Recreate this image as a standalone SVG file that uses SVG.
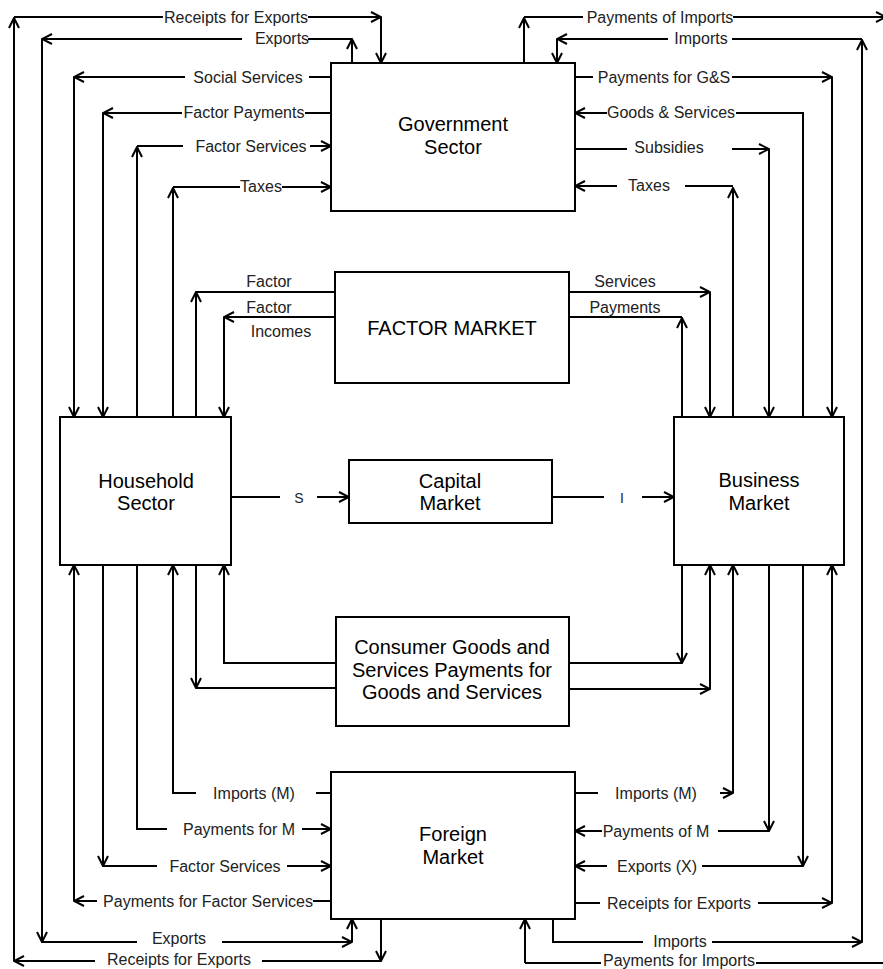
<svg xmlns="http://www.w3.org/2000/svg" width="883" height="969" viewBox="0 0 883 969">
<defs>
<style>
.c{fill:none;stroke:#000;stroke-width:2}
.box{fill:#fff;stroke:#000;stroke-width:2}
.l{font-family:"Liberation Sans",Arial,sans-serif;font-size:16px;fill:#222;text-anchor:middle}
.t{font-family:"Liberation Sans",Arial,sans-serif;font-size:20px;fill:#000;text-anchor:middle}
</style>
<marker id="ah" viewBox="0 0 12 12" refX="11" refY="6" markerWidth="12" markerHeight="12" markerUnits="userSpaceOnUse" orient="auto"><path d="M1,1 L11,6 L1,11" fill="none" stroke="#000" stroke-width="2"/></marker>
</defs>
<rect width="883" height="969" fill="#fff"/>
<g id="connectors">
<!-- Receipts for Exports (outer loop x=14) -->
<path class="c" d="M14,961 V18" marker-end="url(#ah)"/>
<path class="c" d="M14,17 H163"/>
<path class="c" d="M308,17 H381" marker-end="url(#ah)"/>
<path class="c" d="M381,17 V63" marker-end="url(#ah)"/>
<path class="c" d="M381,919 V961" marker-end="url(#ah)"/>
<path class="c" d="M381,961 H262"/>
<path class="c" d="M95,961 H14" marker-end="url(#ah)"/>
<text class="l" x="236" y="23">Receipts for Exports</text>
<text class="l" x="179" y="965">Receipts for Exports</text>
<!-- Exports (x=42) -->
<path class="c" d="M352,63 V39" marker-end="url(#ah)"/>
<path class="c" d="M352,39 H308"/>
<path class="c" d="M242,39 H42" marker-end="url(#ah)"/>
<path class="c" d="M42,39 V942" marker-end="url(#ah)"/>
<path class="c" d="M42,942 H137"/>
<path class="c" d="M222,942 H352" marker-end="url(#ah)"/>
<path class="c" d="M352,942 V919" marker-end="url(#ah)"/>
<text class="l" x="282" y="44">Exports</text>
<text class="l" x="179" y="944">Exports</text>
<!-- Social Services -->
<path class="c" d="M331,77 H309"/>
<path class="c" d="M185,77 H74" marker-end="url(#ah)"/>
<path class="c" d="M74,77 V417" marker-end="url(#ah)"/>
<text class="l" x="248" y="83">Social Services</text>
<!-- Factor Payments -->
<path class="c" d="M331,113 H305"/>
<path class="c" d="M182,113 H103" marker-end="url(#ah)"/>
<path class="c" d="M103,113 V417" marker-end="url(#ah)"/>
<text class="l" x="244" y="118">Factor Payments</text>
<!-- Factor Services (to government) -->
<path class="c" d="M137,417 V147" marker-end="url(#ah)"/>
<path class="c" d="M137,146 H183"/>
<path class="c" d="M310,146 H331" marker-end="url(#ah)"/>
<text class="l" x="251" y="152">Factor Services</text>
<!-- Taxes (left) -->
<path class="c" d="M173,417 V188" marker-end="url(#ah)"/>
<path class="c" d="M173,187 H240"/>
<path class="c" d="M282,187 H331" marker-end="url(#ah)"/>
<text class="l" x="261" y="192">Taxes</text>
<!-- Factor / Factor Incomes -->
<path class="c" d="M196,417 V292" marker-end="url(#ah)"/>
<path class="c" d="M196,292 H335"/>
<path class="c" d="M335,317 H224" marker-end="url(#ah)"/>
<path class="c" d="M224,317 V417" marker-end="url(#ah)"/>
<text class="l" x="269" y="287">Factor</text>
<text class="l" x="269" y="313">Factor</text>
<text class="l" x="281" y="337">Incomes</text>
<!-- S and I -->
<path class="c" d="M231,497 H280"/>
<path class="c" d="M317,497 H349" marker-end="url(#ah)"/>
<text class="l" x="299" y="503" style="font-size:14px">S</text>
<path class="c" d="M552,497 H604"/>
<path class="c" d="M642,497 H674" marker-end="url(#ah)"/>
<text class="l" x="622" y="503" style="font-size:14px">I</text>
<!-- Services / Payments (factor market to business) -->
<path class="c" d="M569,292 H710" marker-end="url(#ah)"/>
<path class="c" d="M710,292 V417" marker-end="url(#ah)"/>
<path class="c" d="M682,417 V318" marker-end="url(#ah)"/>
<path class="c" d="M682,317 H569"/>
<text class="l" x="625" y="287">Services</text>
<text class="l" x="625" y="313">Payments</text>
<!-- Consumer goods box links -->
<path class="c" d="M336,663 H224 V565" marker-end="url(#ah)"/>
<path class="c" d="M336,688 H196"/>
<path class="c" d="M196,565 V688" marker-end="url(#ah)"/>
<path class="c" d="M569,663 H682"/>
<path class="c" d="M682,565 V663" marker-end="url(#ah)"/>
<path class="c" d="M569,689 H710" marker-end="url(#ah)"/>
<path class="c" d="M710,689 V565" marker-end="url(#ah)"/>
<!-- Payments for G&S -->
<path class="c" d="M575,77 H593"/>
<path class="c" d="M732,77 H832" marker-end="url(#ah)"/>
<path class="c" d="M832,77 V417" marker-end="url(#ah)"/>
<text class="l" x="664" y="83">Payments for G&amp;S</text>
<!-- Goods & Services -->
<path class="c" d="M803,417 V113 H736"/>
<path class="c" d="M607,113 H575" marker-end="url(#ah)"/>
<text class="l" x="671" y="118">Goods &amp; Services</text>
<!-- Subsidies -->
<path class="c" d="M575,149 H627"/>
<path class="c" d="M732,149 H769" marker-end="url(#ah)"/>
<path class="c" d="M769,149 V417" marker-end="url(#ah)"/>
<text class="l" x="669" y="153">Subsidies</text>
<!-- Taxes (right) -->
<path class="c" d="M733,417 V188" marker-end="url(#ah)"/>
<path class="c" d="M733,186 H685"/>
<path class="c" d="M617,186 H575" marker-end="url(#ah)"/>
<text class="l" x="649" y="191">Taxes</text>
<!-- Payments of Imports (top) -->
<path class="c" d="M524,63 V18" marker-end="url(#ah)"/>
<path class="c" d="M524,17 H583"/>
<path class="c" d="M733,17 H886" marker-end="url(#ah)"/>
<text class="l" x="660" y="23">Payments of Imports</text>
<!-- Imports (x=862 loop) -->
<path class="c" d="M862,942 V40" marker-end="url(#ah)"/>
<path class="c" d="M862,39 H732"/>
<path class="c" d="M668,39 H557" marker-end="url(#ah)"/>
<path class="c" d="M557,39 V63" marker-end="url(#ah)"/>
<path class="c" d="M553,919 V942 H643"/>
<path class="c" d="M712,942 H862" marker-end="url(#ah)"/>
<text class="l" x="701" y="44">Imports</text>
<text class="l" x="680" y="947">Imports</text>
<!-- Payments for Imports (bottom) -->
<path class="c" d="M883,963 H756"/>
<path class="c" d="M601,963 H525"/>
<path class="c" d="M525,963 V919" marker-end="url(#ah)"/>
<text class="l" x="679" y="966">Payments for Imports</text>
<!-- Bottom left -->
<path class="c" d="M331,793 H316"/>
<path class="c" d="M196,793 H173 V565" marker-end="url(#ah)"/>
<text class="l" x="254" y="799">Imports (M)</text>
<path class="c" d="M137,565 V829 H167"/>
<path class="c" d="M302,829 H331" marker-end="url(#ah)"/>
<text class="l" x="239" y="835">Payments for M</text>
<path class="c" d="M103,565 V866" marker-end="url(#ah)"/>
<path class="c" d="M103,866 H157"/>
<path class="c" d="M287,866 H331" marker-end="url(#ah)"/>
<text class="l" x="225" y="872">Factor Services</text>
<path class="c" d="M331,901 H313"/>
<path class="c" d="M97,901 H74" marker-end="url(#ah)"/>
<path class="c" d="M74,901 V565" marker-end="url(#ah)"/>
<text class="l" x="208" y="907">Payments for Factor Services</text>
<!-- Bottom right -->
<path class="c" d="M575,793 H598"/>
<path class="c" d="M720,793 H733" marker-end="url(#ah)"/>
<path class="c" d="M733,793 V565" marker-end="url(#ah)"/>
<text class="l" x="656" y="799">Imports (M)</text>
<path class="c" d="M769,565 V831" marker-end="url(#ah)"/>
<path class="c" d="M769,831 H718"/>
<path class="c" d="M602,831 H575" marker-end="url(#ah)"/>
<text class="l" x="656" y="837">Payments of M</text>
<path class="c" d="M803,565 V866" marker-end="url(#ah)"/>
<path class="c" d="M803,866 H702"/>
<path class="c" d="M607,866 H575" marker-end="url(#ah)"/>
<text class="l" x="657" y="872">Exports (X)</text>
<path class="c" d="M575,903 H600"/>
<path class="c" d="M758,903 H832" marker-end="url(#ah)"/>
<path class="c" d="M832,903 V565" marker-end="url(#ah)"/>
<text class="l" x="679" y="909">Receipts for Exports</text>
</g>
<g id="government">
<rect class="box" x="331" y="63" width="244" height="148"/>
<text class="t" x="453" y="131">Government</text>
<text class="t" x="453" y="154">Sector</text>
</g>
<g id="factor-market">
<rect class="box" x="335" y="272" width="234" height="111"/>
<text class="t" x="452" y="335">FACTOR MARKET</text>
</g>
<g id="household">
<rect class="box" x="60" y="417" width="171" height="148"/>
<text class="t" x="146" y="488">Household</text>
<text class="t" x="146" y="510">Sector</text>
</g>
<g id="capital-market">
<rect class="box" x="349" y="460" width="203" height="63"/>
<text class="t" x="450" y="488">Capital</text>
<text class="t" x="450" y="510">Market</text>
</g>
<g id="business">
<rect class="box" x="674" y="417" width="170" height="148"/>
<text class="t" x="759" y="487">Business</text>
<text class="t" x="759" y="510">Market</text>
</g>
<g id="consumer-goods">
<rect class="box" x="336" y="617" width="233" height="109"/>
<text class="t" x="452" y="654">Consumer Goods and</text>
<text class="t" x="452" y="677">Services Payments for</text>
<text class="t" x="452" y="699">Goods and Services</text>
</g>
<g id="foreign">
<rect class="box" x="331" y="772" width="244" height="147"/>
<text class="t" x="453" y="841">Foreign</text>
<text class="t" x="453" y="864">Market</text>
</g>
</svg>
